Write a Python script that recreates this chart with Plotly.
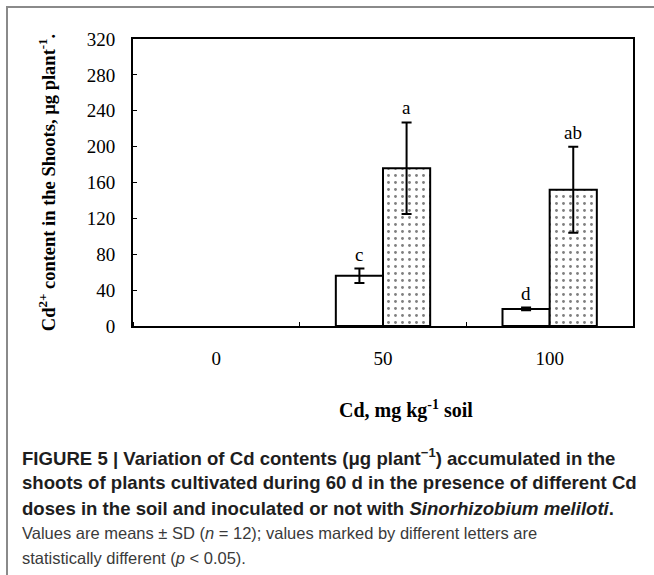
import plotly.graph_objects as go

# ---- data ----
categories = ["0", "50", "100"]
not_inoculated = [0, 56, 19]
not_inoculated_sd = [0, 8, 1.5]
inoculated = [0, 176, 152]
inoculated_sd = [0, 51, 48]
letters_not_inoc = ["", "c", "d"]
letters_inoc = ["", "a", "ab"]
y_ticks = [0, 40, 80, 120, 160, 200, 240, 280, 320]

W, H = 654, 575
L, R, T, B = 133, 21, 39, 249
PW, PH = W - L - R, H - T - B

xpos = list(range(len(categories)))
bw = 0.283

def shown(vals):
    # zero means: no bar drawn in the reference
    return [v if v > 0 else None for v in vals]

def shown_err(vals, errs):
    return [e if v > 0 else None for v, e in zip(vals, errs)]

fig = go.Figure()
fig.add_trace(go.Bar(
    x=xpos, y=shown(not_inoculated), width=bw, offset=-bw,
    marker=dict(color="white", line=dict(color="black", width=2)),
    error_y=dict(type="data", array=shown_err(not_inoculated, not_inoculated_sd),
                 color="black", thickness=2, width=5),
    showlegend=False,
))
fig.add_trace(go.Bar(
    x=xpos, y=shown(inoculated), width=bw, offset=0,
    marker=dict(color="white", line=dict(color="black", width=2),
                pattern=dict(shape=".", fgcolor="black", bgcolor="white", size=7, solidity=0.13)),
    error_y=dict(type="data", array=shown_err(inoculated, inoculated_sd),
                 color="black", thickness=2, width=5),
    showlegend=False,
))

serif = "Liberation Serif, Times New Roman, serif"
annotations = []
for i, c in enumerate(categories):
    if letters_not_inoc[i]:
        annotations.append(dict(x=i - bw / 2, y=not_inoculated[i] + not_inoculated_sd[i],
                                text=letters_not_inoc[i], showarrow=False, yanchor="bottom",
                                yshift=2, font=dict(family=serif, size=19, color="black")))
    if letters_inoc[i]:
        annotations.append(dict(x=i + bw / 2, y=inoculated[i] + inoculated_sd[i],
                                text=letters_inoc[i], showarrow=False, yanchor="bottom",
                                yshift=2, font=dict(family=serif, size=19, color="black")))

def px_x(p):
    return (p - L) / PW

def px_y(p):
    return (H - B - p) / PH

# x-axis title
annotations.append(dict(xref="paper", yref="paper", x=px_x(406), y=px_y(409),
                        text="<b>Cd, mg kg<sup>-1</sup> soil</b>", showarrow=False,
                        xanchor="center", yanchor="middle",
                        font=dict(family=serif, size=20, color="black")))

# caption
sans = "Liberation Sans, Arial, sans-serif"
caption = [
    ("<b>FIGURE 5 | Variation of Cd contents (μg plant<sup>−1</sup>) accumulated in the</b>", 457, "#1e1e1e", 18.6),
    ("<b>shoots of plants cultivated during 60 d in the presence of different Cd</b>", 482, "#1e1e1e", 18.6),
    ("<b>doses in the soil and inoculated or not with <i>Sinorhizobium meliloti</i>.</b>", 508, "#1e1e1e", 18.6),
    ("Values are means ± SD (<i>n</i> = 12); values marked by different letters are", 533, "#3a3a3a", 16.5),
    ("statistically different (<i>p</i> &lt; 0.05).", 558, "#3a3a3a", 16.5),
]
for txt, yy, col, fs in caption:
    annotations.append(dict(xref="paper", yref="paper", x=px_x(20), y=px_y(yy),
                            text=txt, showarrow=False, xanchor="left", yanchor="middle",
                            font=dict(family=sans, size=fs, color=col)))

# grey frame of the figure panel (top and left edges)
frame_path = "M {:.5f},{:.5f} L {:.5f},{:.5f} L {:.5f},{:.5f}".format(
    px_x(7), px_y(578), px_x(7), px_y(7), px_x(660), px_y(7))
shapes = [
    dict(type="path", xref="paper", yref="paper", path=frame_path,
         line=dict(color="#8a8a8a", width=2), layer="above"),
]

fig.update_layout(
    width=W, height=H,
    margin=dict(l=L, r=R, t=T, b=B, autoexpand=False),
    paper_bgcolor="white", plot_bgcolor="white",
    annotations=annotations, shapes=shapes,
    xaxis=dict(range=[-0.5, 2.5], tickvals=xpos, ticktext=categories, ticks="",
               showline=True, linecolor="black", linewidth=2, mirror=True,
               showgrid=False, zeroline=False, ticklabelstandoff=14,
               tickfont=dict(family=serif, size=19, color="black"),
               minor=dict(ticks="inside", tick0=0.5, dtick=1, ticklen=4, tickcolor="black",
                          tickwidth=1, showgrid=False)),
    yaxis=dict(range=[0, 320], tickvals=y_ticks, ticks="inside", ticklen=4, tickcolor="black",
               showline=True, linecolor="black", linewidth=2, mirror=True,
               showgrid=False, zeroline=False, ticklabelstandoff=12,
               tickfont=dict(family=serif, size=19, color="black"),
               title=dict(text="<b>Cd<sup>2+</sup> content in the Shoots, µg plant<sup>-1</sup>.</b>",
                          standoff=26, font=dict(family=serif, size=18.5, color="black"))),
)

fig.write_html("out.html", config={"displayModeBar": False},
               post_script="document.body.style.margin='0';")
